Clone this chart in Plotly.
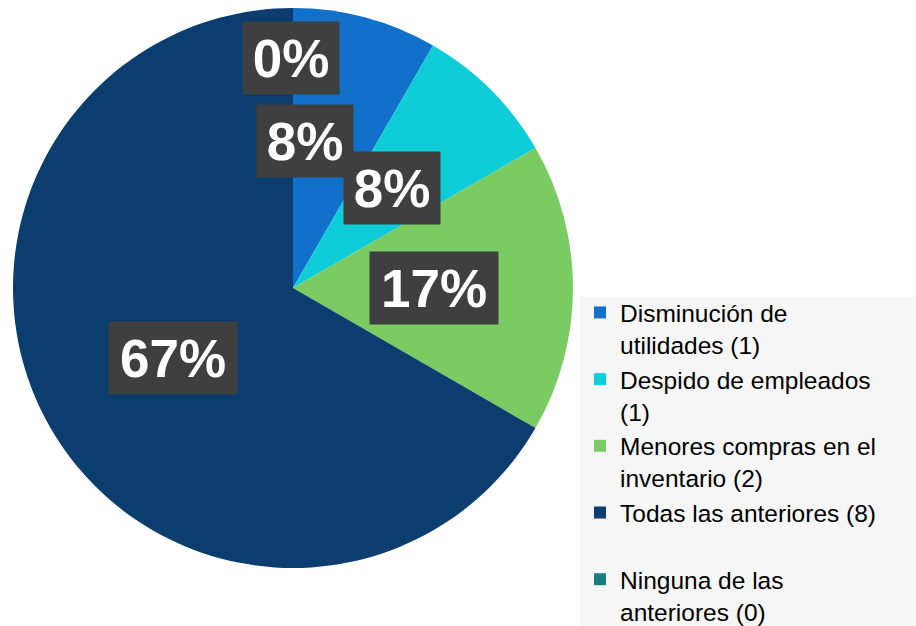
import plotly.graph_objects as go

# Datos del grafico
categorias = ["Disminución de<br>utilidades (1)",
              "Despido de empleados<br>(1)",
              "Menores compras en el<br>inventario (2)",
              "Todas las anteriores (8)<br> ",
              "Ninguna de las<br>anteriores (0)"]
valores = [1, 1, 2, 8, 0]
colores = ["#1170CA", "#0ECDD8", "#7ACB62", "#0C3D6F", "#177F7D"]

W, H = 916, 626

fig = go.Figure()
fig.add_trace(go.Pie(
    labels=categorias, values=valores, sort=False, direction="clockwise",
    marker=dict(colors=colores, line=dict(width=0)),
    textinfo="none", hoverinfo="skip",
    domain=dict(x=[13 / W, 573 / W], y=[1 - 568 / H, 1 - 8 / H]),
))

# etiquetas de porcentaje (posicion en pixeles del centro de cada caja)
total = sum(valores)
etiquetas = [round(v / total * 100) for v in valores]
pos_etiquetas = [(305, 141, 94), (392, 188, 94), (434, 288, 126), (173, 358, 126), (291, 58, 94)]
for pct, (px_, py_, w) in zip(etiquetas, pos_etiquetas):
    fig.add_annotation(
        x=px_ / W, y=1 - py_ / H, xref="paper", yref="paper",
        xanchor="center", yanchor="middle", showarrow=False,
        text="<b>%d%%</b>" % pct, width=w, height=70,
        bgcolor="#3F3F3F",
        font=dict(family="Arial, Liberation Sans", size=53, color="white"),
    )

# fondo gris claro de la leyenda (hasta el borde)
fig.add_shape(type="rect", xref="paper", yref="paper", layer="below",
              x0=580 / W, x1=1, y0=0, y1=1 - 297 / H,
              fillcolor="#F6F6F6", line=dict(width=0))

fig.update_layout(
    width=W, height=H, margin=dict(l=0, r=0, t=0, b=0, autoexpand=False),
    paper_bgcolor="white",
    font=dict(family="Arial, Liberation Sans", color="black"),
    legend=dict(x=580 / W, y=1 - 290 / H, xanchor="left", yanchor="top",
                bgcolor="rgba(0,0,0,0)", font=dict(size=24.5), valign="top",
                tracegroupgap=0),
)

fig.write_html("out.html", config={"displayModeBar": False},
               post_script="document.body.style.margin='0';")
